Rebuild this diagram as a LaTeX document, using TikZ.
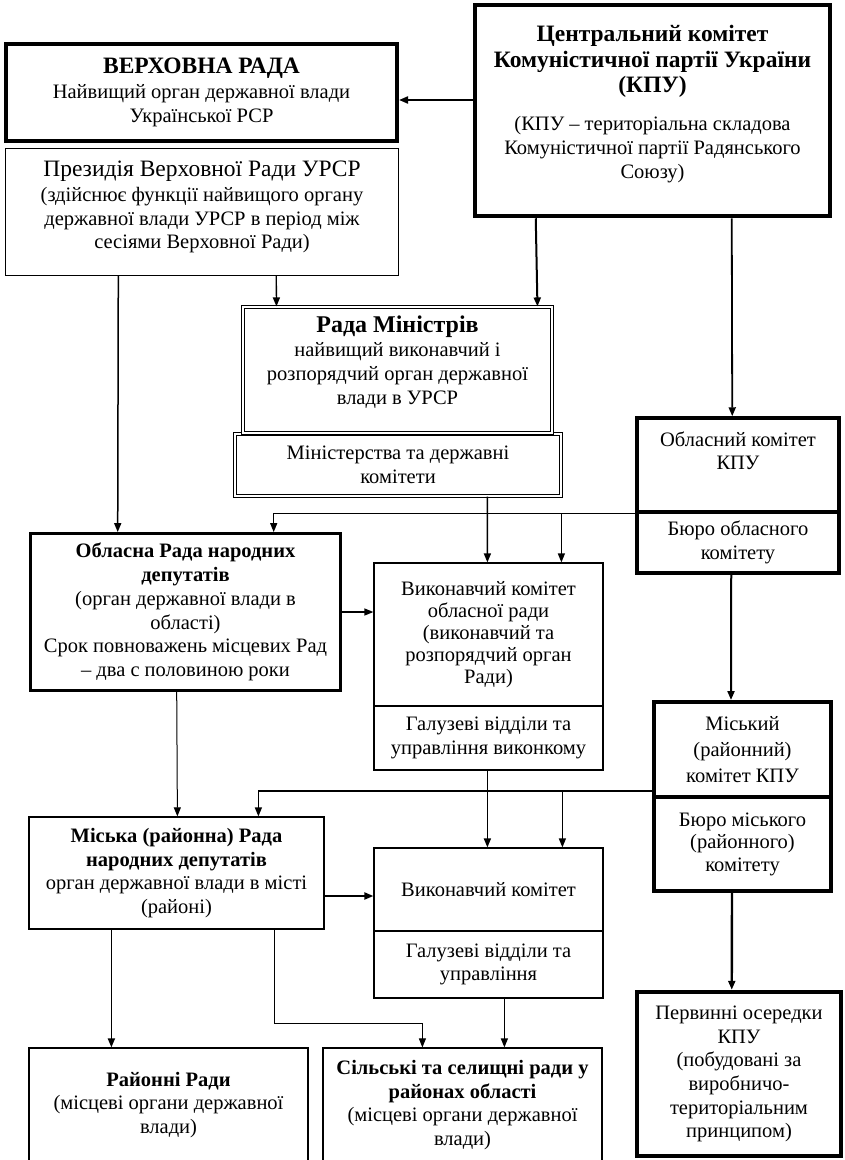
\documentclass[tikz,border=0pt]{standalone}
\usepackage{fontspec}
\setmainfont{Liberation Serif}
\usetikzlibrary{arrows.meta}
\newcommand\hdfont{\fontsize{24}{27}\selectfont}
\newcommand\ckfont{\fontsize{23.5}{27}\selectfont\bfseries}

\begin{document}
\begin{tikzpicture}[x=1pt, y=-1pt,
  box/.style={draw, fill=white, align=center, inner sep=0pt,
    font=\fontsize{20.5}{23.7}\selectfont},
  thinbox/.style={box, line width=1.2pt},
  midbox/.style={box, line width=2.8pt},
  boldbox/.style={box, line width=4pt},
  dblbox/.style={box, double, double distance=1.8pt, line width=1.1pt},
  arr/.style={-{Triangle[length=9pt,width=7pt]}, line width=1.3pt},
  arrthick/.style={arr, line width=2pt}]
  \useasboundingbox (0,0) rectangle (845,1160);
  \fill[white] (0,0) rectangle (845,1160);

  % Top: parliament and party centre
  \node[boldbox, minimum width=391pt, minimum height=97pt] (vr) at (201.5,92.5)
    {{\fontsize{23.5}{27}\selectfont\bfseries ВЕРХОВНА РАДА}\\[1pt]Найвищий орган державної влади\\Української РСР};
  \node[thinbox, minimum width=393pt, minimum height=127pt] (prez) at (202,212)
    {{\fontsize{23.5}{27}\selectfont Президія Верховної Ради УРСР}\\[1pt](здійснює функції найвищого органу\\державної влади УРСР в період між\\сесіями Верховної Ради)\\[-10pt]\mbox{}};
  \node[boldbox, line width=4.5pt, minimum width=355pt, minimum height=211pt] (ck) at (652.5,110.5)
    {{\ckfont Центральний комітет}\\[2pt]{\ckfont Комуністичної партії України}\\[2pt]{\ckfont (КПУ)}\\[14pt](КПУ – територіальна складова\\Комуністичної партії Радянського\\Союзу)\\[-6pt]\mbox{}};

  % Government
  \node[dblbox, minimum width=326pt, minimum height=62pt] (min) at (398,465)
    {Міністерства та державні\\комітети};
  \node[dblbox, minimum width=309pt, minimum height=126pt] (rm) at (397.5,370)
    {{\hdfont\bfseries Рада Міністрів}\\найвищий виконавчий і\\розпорядчий орган державної\\влади в УРСР\\[-4pt]\mbox{}};

  % Oblast level
  \node[boldbox, line width=3.5pt, minimum width=202pt, minimum height=94pt] (ok1) at (738,465)
    {Обласний комітет\\КПУ\\[5pt]\mbox{}};
  \node[boldbox, line width=3.5pt, minimum width=202pt, minimum height=61pt] (ok2) at (738,542.5)
    {Бюро обласного\\комітету};
  \node[midbox, minimum width=310pt, minimum height=157pt] (obr) at (185.5,612)
    {\textbf{Обласна Рада народних}\\\textbf{депутатів}\\(орган державної влади в\\області)\\Срок повноважень місцевих Рад\\– два с половиною роки};
  \node[thinbox, font=\fontsize{20.5}{22}\selectfont, minimum width=229pt, minimum height=143pt] (vk1) at (488.5,634.5)
    {Виконавчий комітет\\обласної ради\\(виконавчий та\\розпорядчий орган\\Ради)};
  \node[thinbox, minimum width=229pt, minimum height=64pt] (vk2) at (488.5,738)
    {Галузеві відділи та\\управління виконкому};

  % City (district) level
  \node[boldbox, font=\fontsize{20.5}{26}\selectfont, minimum width=177pt, minimum height=95pt] (mk1) at (742.5,749.5)
    {Міський\\(районний)\\комітет КПУ};
  \node[boldbox, font=\fontsize{20.5}{22.5}\selectfont, minimum width=177pt, minimum height=94pt] (mk2) at (742.5,844)
    {Бюро міського\\(районного)\\комітету};
  \node[thinbox, minimum width=295pt, minimum height=112pt] (mr) at (176.5,873)
    {\textbf{Міська (районна) Рада}\\\textbf{народних депутатів}\\орган державної влади в місті\\(районі)};
  \node[thinbox, minimum width=229pt, minimum height=83pt] (vk3) at (488.5,889.5)
    {Виконавчий комітет};
  \node[thinbox, minimum width=229pt, minimum height=67pt] (vk4) at (488.5,964.5)
    {Галузеві відділи та\\управління};

  % Bottom row
  \node[thinbox, minimum width=279pt, minimum height=114pt] (rr) at (168.5,1105)
    {\textbf{Районні Ради}\\(місцеві органи державної\\влади)};
  \node[thinbox, minimum width=279pt, minimum height=114pt] (sr) at (462.5,1105)
    {\textbf{Сільські та селищні ради у}\\\textbf{районах області}\\(місцеві органи державної\\влади)};
  \node[boldbox, line width=4.5pt, minimum width=204pt, minimum height=164pt] (pc) at (739,1074)
    {Первинні осередки\\КПУ\\(побудовані за\\виробничо-\\територіальним\\принципом)};

  % Connectors from the top
  \coordinate (vrin) at ([yshift=-7.5pt]vr.east);
  \draw[arrthick] (ck.west |- vrin) -- (vrin);
  \draw[arr] ([xshift=271.4pt]prez.south west) -- ([xshift=34pt]rm.north west);
  \draw[arr, line width=1.5pt] ([xshift=113.4pt]prez.south west) -- ([xshift=88.6pt]obr.north west);
  \draw[arrthick] ([xshift=63pt]ck.south west) -- ([xshift=295pt]rm.north west);
  \draw[arr, line width=1.8pt] ([xshift=259pt]ck.south west) -- ([xshift=97pt]ok1.north west);

  % Oblast connectors
  \coordinate (okbr) at ([xshift=188pt]vk1.north west);
  \draw[arr] (ok1.south west) -| ([xshift=244.6pt]obr.north west);
  \draw[arr] (okbr |- ok1.south west) -- (okbr);
  \draw[arr, line width=1.5pt] ([xshift=253pt]min.south west) -- ([xshift=114pt]vk1.north west);
  \draw[arr] (obr.east) -- (obr.east -| vk1.west);
  \draw[arr, line width=1pt] ([xshift=147.6pt]obr.south west) -- ([xshift=149pt]mr.north west);
  \draw[arrthick] ([xshift=96pt]ok2.south west) -- ([xshift=79pt]mk1.north west);

  % City connectors
  \coordinate (mkout) at ([yshift=8pt]mk1.south west);
  \coordinate (mkbr) at ([xshift=189pt]vk3.north west);
  \draw[arr] (mkout) -| ([xshift=230pt]mr.north west);
  \draw[arr] (mkbr |- mkout) -- (mkbr);
  \draw[arr, line width=1.5pt] ([xshift=114pt]vk2.south west) -- ([xshift=114pt]vk3.north west);
  \coordinate (mrout) at ([yshift=-23pt]mr.east);
  \draw[arrthick] (mrout) -- (mrout -| vk3.west);
  \draw[arr, line width=1.8pt] ([xshift=83pt]mr.south west) -- ([xshift=83pt]rr.north west);
  \draw[arr, line width=1pt] ([xshift=246pt]mr.south west) -- ++(0,94) -| ([xshift=100pt]sr.north west);
  \draw[arr, line width=1.2pt] ([xshift=131pt]vk4.south west) -- ([xshift=182pt]sr.north west);
  \draw[arr, line width=2.4pt] ([xshift=80pt]mk2.south west) -- ([xshift=97pt]pc.north west);
\end{tikzpicture}
\end{document}
